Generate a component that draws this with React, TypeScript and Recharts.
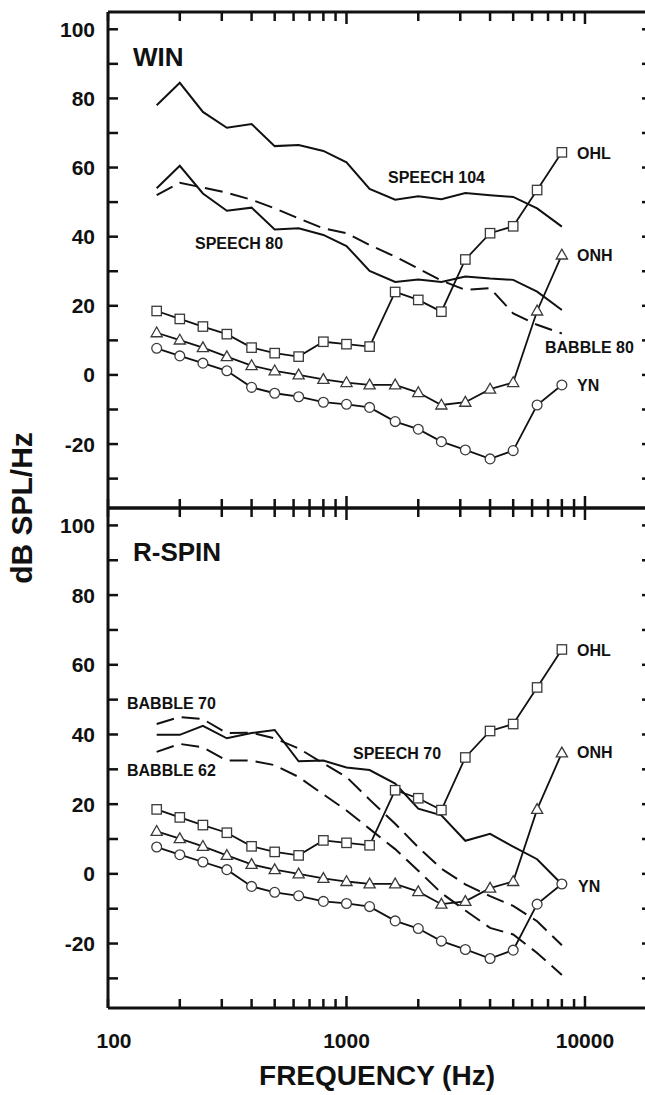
import { LineChart, Line, XAxis, YAxis } from "recharts";

// 1/3-octave centre frequencies (Hz)
const freqs = [160, 200, 250, 315, 400, 500, 630, 800, 1000, 1250, 1600, 2000, 2500, 3150, 4000, 5000, 6300, 8000];

// listener thresholds, same in both panels (dB SPL/Hz)
const ohl = [18.5, 16.2, 14, 11.8, 7.9, 6.3, 5.3, 9.6, 8.9, 8.2, 24, 21.7, 18.3, 33.4, 41, 43, 53.5, 64.4];
const onh = [12.2, 10.1, 7.9, 5.3, 2.7, 1.2, 0, -1.3, -2.2, -2.9, -2.9, -5.1, -8.7, -7.9, -4.1, -2.2, 18.5, 34.7];
const yn = [7.7, 5.5, 3.4, 1.2, -3.6, -5.3, -6.3, -7.9, -8.5, -9.4, -13.5, -15.7, -19.3, -21.7, -24.3, -21.9, -8.7, -2.9];

// WIN panel spectra
const speech104 = [78, 84.5, 76.1, 71.5, 72.6, 66.2, 66.5, 64.8, 61.5, 53.8, 50.7, 51.7, 50.8, 52.6, 52, 51.5, 48.2, 42.9];
const speech80 = [54, 60.5, 52.5, 47.5, 48.4, 42.1, 42.4, 40.5, 37.3, 30.1, 26.9, 27.6, 26.9, 28.5, 27.9, 27.5, 24.1, 18.8];
const babble80 = [52, 55.6, 54.2, 52.7, 50.7, 48.2, 45.3, 42.4, 41, 37.6, 34.2, 30.8, 27.3, 24.6, 25.1, 17.8, 14.5, 12];

// R-SPIN panel spectra
const speech70 = [39.9, 39.9, 42.5, 38.9, 40.4, 41.3, 32.3, 32.5, 30.5, 29.8, 25.9, 18.7, 16.8, 9.5, 11.5, 7.8, 4.2, -3];
const babble70 = [43, 45, 44.4, 40.4, 40.5, 38.9, 36, 31.7, 27.8, 21.3, 14.4, 7.6, 1.5, -3, -6.4, -9.2, -13.6, -20.5];
const babble62 = [35, 37.3, 36.3, 32.5, 32.5, 31.2, 27.8, 22.8, 18.2, 12.9, 7.1, 0.9, -5.5, -10.5, -15.5, -17.4, -22.7, -29];

const xTicks = [100, 200, 300, 400, 500, 600, 700, 800, 900, 1000, 2000, 3000, 4000, 5000, 6000, 7000, 8000, 9000, 10000];
const xLabels = [100, 1000, 10000];
const yTicks = [-30, -20, -10, 0, 10, 20, 30, 40, 50, 60, 70, 80, 90, 100];

const winData = freqs.map((f, i) => ({
  f, ohl: ohl[i], onh: onh[i], yn: yn[i],
  speech104: speech104[i], speech80: speech80[i], babble80: babble80[i],
}));

const rspinData = freqs.map((f, i) => ({
  f, ohl: ohl[i], onh: onh[i], yn: yn[i],
  speech70: speech70[i], babble70: babble70[i], babble62: babble62[i],
}));

const FONT = "'Liberation Sans', Arial, Helvetica, sans-serif";
const INK = "#111";
const X_DOMAIN = [100, 18200];
const Y_DOMAIN = [-38.5, 105];

const Square = (p: any) => {
  if (p.cx == null || p.cy == null) return <g key={`s${p.index}`} />;
  return <rect key={`s${p.index}`} x={p.cx - 4.7} y={p.cy - 4.7} width={9.4} height={9.4} fill="#fff" stroke="#3a3a3a" strokeWidth={1.3} />;
};
const Tri = (p: any) => {
  if (p.cx == null || p.cy == null) return <g key={`t${p.index}`} />;
  const { cx, cy } = p;
  return <polygon key={`t${p.index}`} points={`${cx},${cy - 5.8} ${cx - 5.6},${cy + 4} ${cx + 5.6},${cy + 4}`} fill="#fff" stroke="#3a3a3a" strokeWidth={1.3} />;
};
const Circ = (p: any) => {
  if (p.cx == null || p.cy == null) return <g key={`c${p.index}`} />;
  return <circle key={`c${p.index}`} cx={p.cx} cy={p.cy} r={4.9} fill="#fff" stroke="#3a3a3a" strokeWidth={1.3} />;
};

const axisLine = { stroke: INK, strokeWidth: 3 };
const labelFont = { fill: INK, fontSize: 21, fontWeight: 700, fontFamily: FONT } as const;

// inward tick marks; tickSize/tickMargin are 0 so x,y sit on the axis line
const tickLen = (v: number) => (v === 1000 || v === 10000 ? 12 : 9);

const BottomTick = (p: any) => {
  const v = p.payload?.value;
  return (
    <g>
      <line x1={p.x} y1={p.y} x2={p.x} y2={p.y - tickLen(v)} stroke={INK} strokeWidth={2.5} />
      {xLabels.includes(v) && (
        <text x={p.x + (v === 100 ? 6 : 0)} y={p.y + 40} textAnchor="middle" {...labelFont}>{v}</text>
      )}
    </g>
  );
};
const MidTick = (p: any) => (
  <line x1={p.x} y1={p.y} x2={p.x} y2={p.y - tickLen(p.payload?.value)} stroke={INK} strokeWidth={2.5} />
);
const TopTick = (p: any) => (
  <line x1={p.x} y1={p.y} x2={p.x} y2={p.y + tickLen(p.payload?.value)} stroke={INK} strokeWidth={2.5} />
);

const yTickLeft = (p: any) => {
  const v = p.payload?.value;
  return (
    <g>
      <line x1={p.x} y1={p.y} x2={p.x + 10} y2={p.y} stroke={INK} strokeWidth={2.5} />
      {v % 20 === 0 && <text x={p.x - 13} y={p.y + 7.5} textAnchor="end" {...labelFont}>{v}</text>}
    </g>
  );
};

const yTickRight = (p: any) => (
  <line x1={p.x} y1={p.y} x2={p.x - 5} y2={p.y} stroke={INK} strokeWidth={2.5} />
);

function panelAxes(showXLabels: boolean, bottomHeight: number) {
  return [
    <XAxis key="xb" dataKey="f" type="number" scale="log" domain={X_DOMAIN} allowDataOverflow
      ticks={xTicks} interval={0} height={bottomHeight}
      axisLine={axisLine} tickLine={false} tickSize={0} tickMargin={0}
      tick={showXLabels ? BottomTick : MidTick} />,
    <XAxis key="xt" xAxisId="top" orientation="top" dataKey="f" type="number" scale="log" domain={X_DOMAIN} allowDataOverflow
      ticks={xTicks} interval={0} height={2}
      axisLine={axisLine} tickLine={false} tickSize={0} tickMargin={0} tick={TopTick} />,
    <YAxis key="yl" type="number" domain={Y_DOMAIN} allowDataOverflow ticks={yTicks} interval={0} width={108}
      axisLine={axisLine} tickLine={false} tickSize={0} tickMargin={0} tick={yTickLeft} />,
    <YAxis key="yr" yAxisId="right" orientation="right" type="number" domain={Y_DOMAIN} allowDataOverflow ticks={yTicks} interval={0} width={10}
      axisLine={axisLine} tickLine={false} tickSize={0} tickMargin={0} tick={yTickRight} />,
  ];
}

function markerSeries() {
  return [
    <Line key="ohl" dataKey="ohl" stroke={INK} strokeWidth={1.8} dot={Square} isAnimationActive={false} />,
    <Line key="onh" dataKey="onh" stroke={INK} strokeWidth={1.8} dot={Tri} isAnimationActive={false} />,
    <Line key="yn" dataKey="yn" stroke={INK} strokeWidth={1.8} dot={Circ} isAnimationActive={false} />,
  ];
}

const txt = { fontFamily: FONT, fontWeight: 700, fill: INK } as const;

export default function App() {
  return (
    <div style={{ position: "absolute", left: 0, top: 0, width: 645, height: 1095, overflow: "hidden", background: "#fff" }}>
      <div style={{ position: "absolute", left: 0, top: 0 }}>
        <LineChart width={661} height={510} data={winData} margin={{ top: 10, right: 4, bottom: 0, left: 0 }}>
          {panelAxes(false, 2)}
          <Line dataKey="speech104" stroke={INK} strokeWidth={2} dot={false} isAnimationActive={false} />
          <Line dataKey="speech80" stroke={INK} strokeWidth={2} dot={false} isAnimationActive={false} />
          <Line dataKey="babble80" stroke={INK} strokeWidth={2} strokeDasharray="18 8" dot={false} isAnimationActive={false} />
          {markerSeries()}
        </LineChart>
      </div>
      <div style={{ position: "absolute", left: 0, top: 496 }}>
        <LineChart width={661} height={592} data={rspinData} margin={{ top: 10, right: 4, bottom: 0, left: 0 }}>
          {panelAxes(true, 80)}
          <Line dataKey="speech70" stroke={INK} strokeWidth={2} dot={false} isAnimationActive={false} />
          <Line dataKey="babble70" stroke={INK} strokeWidth={2} strokeDasharray="18 8" dot={false} isAnimationActive={false} />
          <Line dataKey="babble62" stroke={INK} strokeWidth={2} strokeDasharray="18 8" dot={false} isAnimationActive={false} />
          {markerSeries()}
        </LineChart>
      </div>
      <svg width={645} height={1095} style={{ position: "absolute", left: 0, top: 0, pointerEvents: "none" }}>
        <text x={133} y={66} fontSize={26} {...txt}>WIN</text>
        <text x={388} y={183} fontSize={16} {...txt}>SPEECH 104</text>
        <text x={195} y={249} fontSize={16} {...txt}>SPEECH 80</text>
        <text x={577} y={159} fontSize={16} {...txt}>OHL</text>
        <text x={577} y={261} fontSize={16} {...txt}>ONH</text>
        <text x={545} y={353} fontSize={16} {...txt}>BABBLE 80</text>
        <text x={577} y={391} fontSize={16} {...txt}>YN</text>

        <text x={133} y={561} fontSize={26} {...txt}>R-SPIN</text>
        <text x={127} y={709} fontSize={16} {...txt}>BABBLE 70</text>
        <text x={127} y={776} fontSize={16} {...txt}>BABBLE 62</text>
        <text x={353} y={759} fontSize={16} {...txt}>SPEECH 70</text>
        <text x={577} y={656} fontSize={16} {...txt}>OHL</text>
        <text x={577} y={758} fontSize={16} {...txt}>ONH</text>
        <text x={578} y={892} fontSize={16} {...txt}>YN</text>

        <text x={377} y={1085} fontSize={28} textAnchor="middle" {...txt}>FREQUENCY (Hz)</text>
        <text transform="translate(32 508) rotate(-90)" fontSize={30} textAnchor="middle" {...txt}>dB SPL/Hz</text>
      </svg>
    </div>
  );
}
